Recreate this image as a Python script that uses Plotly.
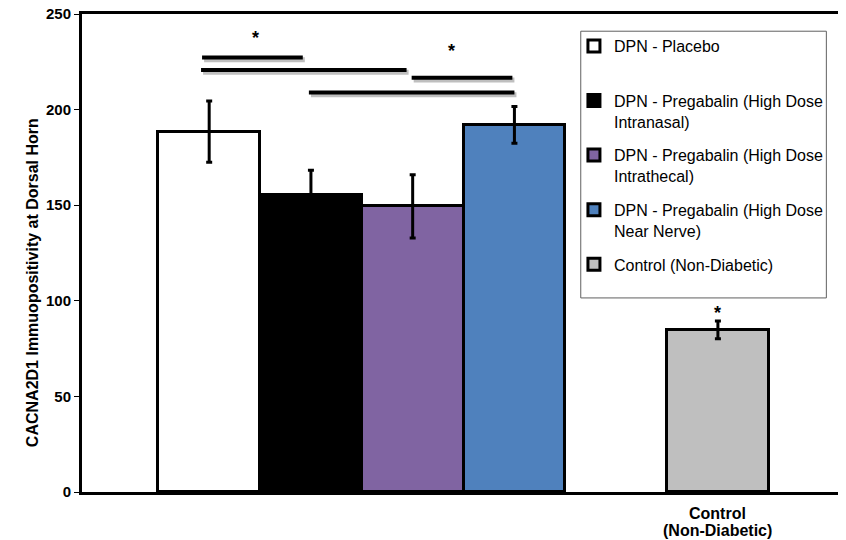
import plotly.graph_objects as go

# bar data
series = ["DPN - Placebo",
          "DPN - Pregabalin (High Dose Intranasal)",
          "DPN - Pregabalin (High Dose Intrathecal)",
          "DPN - Pregabalin (High Dose Near Nerve)",
          "Control (Non-Diabetic)"]
legend_text = ["DPN - Placebo<br> ",
               "DPN - Pregabalin (High Dose<br>Intranasal)",
               "DPN - Pregabalin (High Dose<br>Intrathecal)",
               "DPN - Pregabalin (High Dose<br>Near Nerve)",
               "Control (Non-Diabetic)"]
categories = ["Placebo", "Intranasal", "Intrathecal", "Near Nerve", " ", "Control (Non-Diabetic)"]
bar_cats = ["Placebo", "Intranasal", "Intrathecal", "Near Nerve", "Control (Non-Diabetic)"]
means = [188.5, 155.3, 149.4, 192.0, 84.8]
errors = [16.0, 13.0, 16.5, 9.6, 4.7]
colors = ["#FFFFFF", "#000000", "#8064A2", "#4F81BD", "#BFBFBF"]
x_label_lines = ["Control", "(Non-Diabetic)"]
y_title = "CACNA2D1 Immuopositivity at Dorsal Horn"

# significance brackets: (x start, x end, y) in category index / data units
sig_lines = [(-0.07, 0.92, 227.3), (-0.08, 1.94, 220.7), (1.99, 2.98, 216.7), (0.98, 3.0, 209.0)]
stars = [(0.46, 237.4), (2.38, 230.6), (5, 93.6)]

FONT = "Arial, Liberation Sans, sans-serif"

fig = go.Figure()
for name, lt, cat, m, e, c in zip(series, legend_text, bar_cats, means, errors, colors):
    fig.add_trace(go.Bar(
        x=[cat], y=[m], name=lt, legendgroup=name,
        marker=dict(color=c, line=dict(color="black", width=3)),
        error_y=dict(type="data", array=[e], visible=True, color="black", thickness=3, width=3),
    ))

shapes = []
for x0, x1, y in sig_lines:
    shapes.append(dict(type="line", xref="x", yref="y", x0=x0 + 0.02, x1=x1 + 0.02, y0=y - 1.2, y1=y - 1.2,
                       line=dict(color="rgba(0,0,0,0.25)", width=5)))
    shapes.append(dict(type="line", xref="x", yref="y", x0=x0, x1=x1, y0=y, y1=y,
                       line=dict(color="black", width=4)))
# legend frame
shapes.append(dict(type="rect", xref="paper", yref="paper", x0=0.658, x1=0.982, y0=0.406, y1=0.964,
                   line=dict(color="#606060", width=1), fillcolor="rgba(0,0,0,0)", layer="below"))

annotations = [dict(x=x, y=y, xref="x", yref="y", text="*", showarrow=False,
                    font=dict(family=FONT, size=18, color="black", weight="bold"))
               for x, y in stars]
# category label under the control bar, two tightly spaced lines
for txt, yp in zip(x_label_lines, [-0.046, -0.081]):
    annotations.append(dict(x="Control (Non-Diabetic)", y=yp, xref="x", yref="paper", text=txt,
                            showarrow=False, yanchor="middle",
                            font=dict(family=FONT, size=16, color="black", weight="bold")))
# y axis title (sits a little below the plot's middle in the original)
annotations.append(dict(x=-0.066, y=0.439, xref="paper", yref="paper", text=y_title, textangle=-90,
                        showarrow=False, xanchor="center", yanchor="middle",
                        font=dict(family=FONT, size=16, color="black", weight="bold")))

fig.update_layout(
    width=838, height=532,
    margin=dict(l=74, r=6, t=6, b=48),
    paper_bgcolor="white", plot_bgcolor="white",
    barmode="overlay", bargap=0,
    font=dict(family=FONT, color="black"),
    shapes=shapes, annotations=annotations,
    showlegend=True,
    legend=dict(x=0.649, y=0.9686, xanchor="left", yanchor="top",
                bgcolor="rgba(0,0,0,0)", borderwidth=0,
                font=dict(family=FONT, size=16, color="black"),
                valign="top", tracegroupgap=10, itemwidth=30, traceorder="grouped"),
    xaxis=dict(type="category", categoryorder="array", categoryarray=categories, automargin=False,
               range=[-1.25, 6.2], showline=True, linecolor="black", linewidth=3, mirror=True,
               showgrid=False, ticks="", showticklabels=False),
    yaxis=dict(range=[0, 250], dtick=50, showline=True, linecolor="black", linewidth=3, mirror=True,
               automargin=False, ticklabeloverflow="allow",
               showgrid=False, zeroline=False, ticks="outside", ticklen=5, tickwidth=1, tickcolor="black",
               tickfont=dict(family=FONT, size=15, color="black", weight="bold")),
)

fig.write_html("out.html")
